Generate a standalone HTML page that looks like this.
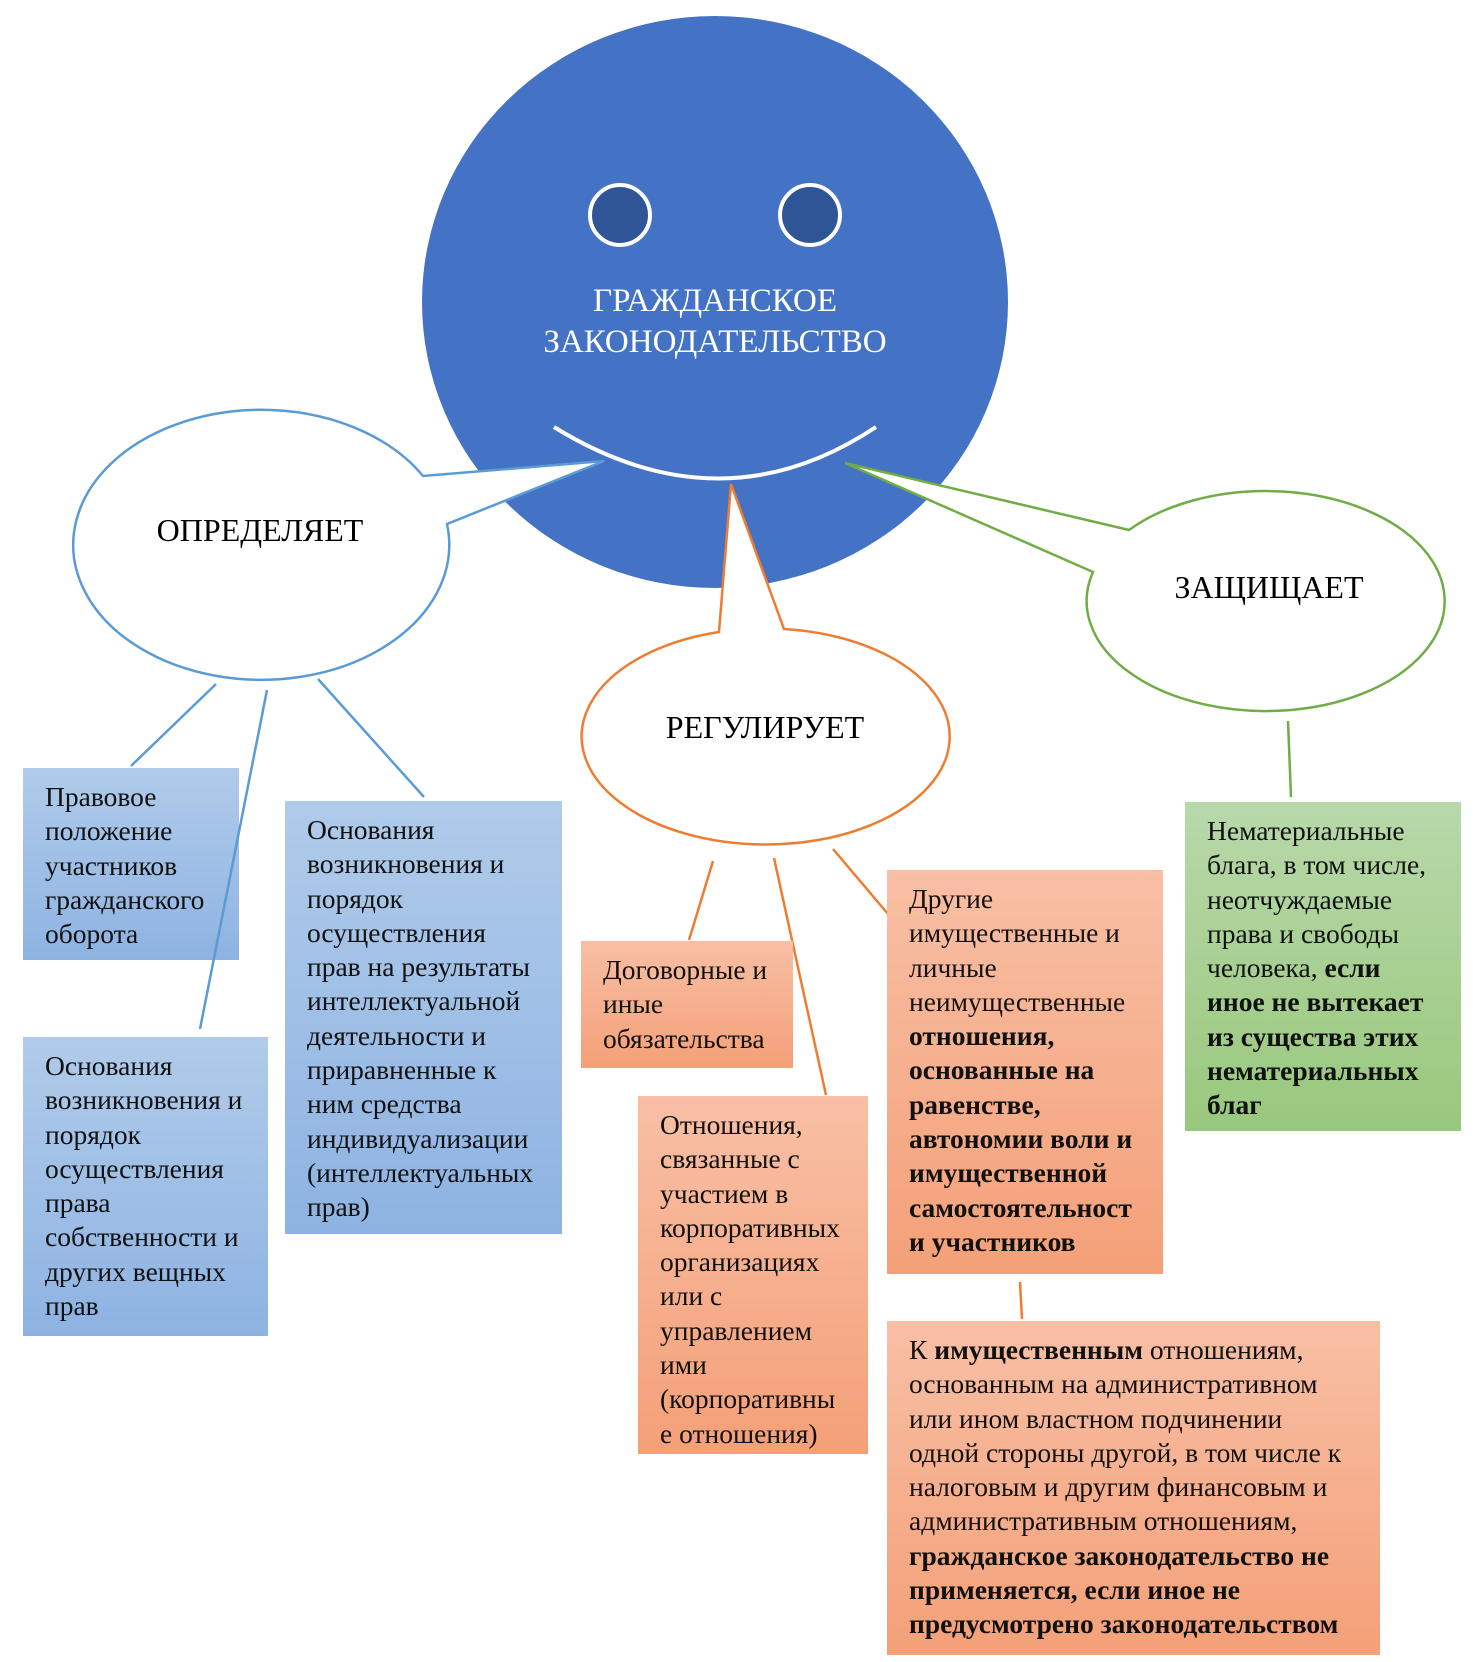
<!DOCTYPE html>
<html><head><meta charset="utf-8"><style>
body{margin:0;width:1473px;height:1662px;background:#fff;position:relative;overflow:hidden;font-family:"Liberation Serif","DejaVu Serif",serif;}
.b{position:absolute;box-sizing:border-box;padding:12px 0 0 22px;font-size:27.5px;line-height:34.3px;color:#111;white-space:nowrap;font-family:"Liberation Serif","DejaVu Serif",serif;}
.bl{background:linear-gradient(#b0cbea,#8eb3e2);}
.or{background:linear-gradient(#f8bfa5,#f4a078);}
.gr{background:linear-gradient(#b8d8aa,#98c87c);}
svg{position:absolute;left:0;top:0;}
</style></head><body>
<svg width="1473" height="1662">
<ellipse cx="715" cy="302" rx="293" ry="286" fill="#4472c4"/>
<circle cx="620" cy="215" r="30" fill="#2f5597" stroke="#fff" stroke-width="4"/>
<circle cx="810" cy="215" r="30" fill="#2f5597" stroke="#fff" stroke-width="4"/>
<path d="M554 427 Q721 530 876 427" fill="none" stroke="#fff" stroke-width="4"/>
<text x="715" y="311" font-size="33" fill="#fff" text-anchor="middle" font-family="Liberation Serif">ГРАЖДАНСКОЕ</text>
<text x="715" y="352" font-size="33" fill="#fff" text-anchor="middle" font-family="Liberation Serif">ЗАКОНОДАТЕЛЬСТВО</text>
<g stroke-width="2.5" fill="#fff">
<path d="M423 476 A188 135 0 1 0 447 524 L604 461 Z" stroke="#5b9bd5"/>
<path d="M719 632 A184 108 0 1 0 784 629 L731 484 Z" stroke="#ed7d31"/>
<path d="M1129 530 A179 110 0 1 1 1093 572 L845 463 Z" stroke="#70ad47"/>
</g>
<g stroke-width="2.5">
<line x1="216" y1="684" x2="131" y2="766" stroke="#5b9bd5"/>
<line x1="318" y1="679" x2="424" y2="797" stroke="#5b9bd5"/>
<line x1="713" y1="861" x2="689" y2="940" stroke="#ed7d31"/>
<line x1="774" y1="858" x2="826" y2="1095" stroke="#ed7d31"/>
<line x1="833" y1="849" x2="888" y2="914" stroke="#ed7d31"/>
<line x1="1020" y1="1282" x2="1022" y2="1319" stroke="#ed7d31"/>
<line x1="1288" y1="721" x2="1291" y2="797" stroke="#70ad47"/>
</g>
<g font-size="32" font-family="Liberation Serif" text-anchor="middle" fill="#000">
<text x="260" y="541">ОПРЕДЕЛЯЕТ</text>
<text x="765" y="738">РЕГУЛИРУЕТ</text>
<text x="1269" y="598">ЗАЩИЩАЕТ</text>
</g>
</svg>
<div class="b bl" style="left:23px;top:768px;width:216px;height:192px">Правовое<br>положение<br>участников<br>гражданского<br>оборота</div>
<div class="b bl" style="left:23px;top:1037px;width:245px;height:299px">Основания<br>возникновения и<br>порядок<br>осуществления<br>права<br>собственности и<br>других вещных<br>прав</div>
<div class="b bl" style="left:285px;top:801px;width:277px;height:433px">Основания<br>возникновения и<br>порядок<br>осуществления<br>прав на результаты<br>интеллектуальной<br>деятельности и<br>приравненные к<br>ним средства<br>индивидуализации<br>(интеллектуальных<br>прав)</div>
<div class="b or" style="left:581px;top:941px;width:212px;height:127px">Договорные и<br>иные<br>обязательства</div>
<div class="b or" style="left:638px;top:1096px;width:230px;height:358px">Отношения,<br>связанные с<br>участием в<br>корпоративных<br>организациях<br>или с<br>управлением<br>ими<br>(корпоративны<br>е отношения)</div>
<div class="b or" style="left:887px;top:870px;width:276px;height:404px">Другие<br>имущественные и<br>личные<br>неимущественные<br><b>отношения,<br>основанные на<br>равенстве,<br>автономии воли и<br>имущественной<br>самостоятельност<br>и участников</b></div>
<div class="b or" style="left:887px;top:1321px;width:493px;height:334px">К <b>имущественным</b> отношениям,<br>основанным на административном<br>или ином властном подчинении<br>одной стороны другой, в том числе к<br>налоговым и другим финансовым и<br>административным отношениям,<br><b>гражданское законодательство не<br>применяется, если иное не<br>предусмотрено законодательством</b></div>
<div class="b gr" style="left:1185px;top:802px;width:276px;height:329px">Нематериальные<br>блага, в том числе,<br>неотчуждаемые<br>права и свободы<br>человека, <b>если<br>иное не вытекает<br>из существа этих<br>нематериальных<br>благ</b></div>
<svg width="1473" height="1662" style="pointer-events:none"><line x1="267" y1="690" x2="200" y2="1029" stroke="#5b9bd5" stroke-width="2.5"/></svg>
</body></html>
